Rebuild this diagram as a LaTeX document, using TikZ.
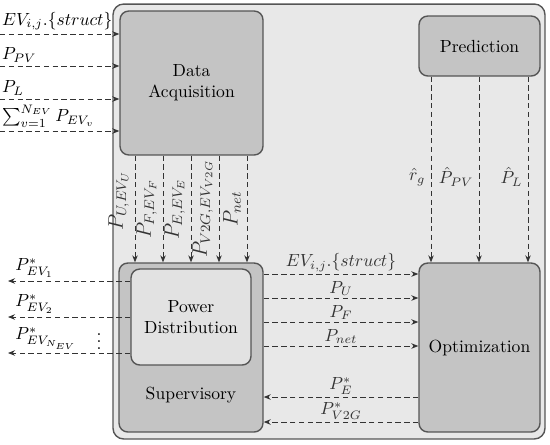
\documentclass[tikz,border=0pt]{standalone}
\usepackage{amsmath,amssymb}
\usetikzlibrary{arrows.meta,positioning,calc}
\definecolor{panelgray}{RGB}{232,232,232}
\definecolor{blockgray}{RGB}{196,196,196}
\definecolor{innergray}{RGB}{226,226,226}
\definecolor{edgegray}{RGB}{85,85,85}
\tikzset{
  panel/.style={rectangle, rounded corners=6pt, draw=edgegray, fill=panelgray, line width=0.8pt},
  block/.style={rectangle, rounded corners=5pt, draw=edgegray, fill=blockgray,
                line width=0.8pt, align=center, font=\normalsize},
  innerblock/.style={block, fill=innergray},
  sig/.style={-{Stealth[length=1.4mm, width=1.1mm]}, black!80, line width=0.5pt,
              dash pattern=on 3pt off 2pt},
  siglbl/.style={inner sep=1pt, font=\normalsize},
  uplbl/.style={siglbl, font=\large, rotate=90, anchor=south, outer sep=2.5pt},
}
\begin{document}
\begin{tikzpicture}[x=0.02cm, y=-0.02cm]
\useasboundingbox (0,0) rectangle (550,444);
% blocks
\node[panel, minimum width=8.64cm, minimum height=8.7cm] (frame) at (329,221.5) {};
\node[block, minimum width=2.86cm, minimum height=2.88cm] (acq) at (191.5,83) {Data\\Acquisition};
\node[block, minimum width=2.42cm, minimum height=1.2cm] (pred) at (479.5,46) {Prediction};
\node[block, minimum width=2.88cm, minimum height=3.38cm] (sup) at (191,347.5) {};
\node[innerblock, minimum width=2.4cm, minimum height=1.92cm] (dist) at (191,317) {Power\\Distribution};
\node[font=\normalsize] (suplbl) at (191,395) {Supervisory};
\node[block, minimum width=2.42cm, minimum height=3.38cm] (opt) at (479.5,347.5) {Optimization};
% measured inputs
\foreach \y/\lbl [count=\i] in {34/{EV_{i,j}.\{struct\}}, 66/{P_{PV}}, 99/{P_L},
                                131/{\sum_{v=1}^{N_{EV}} P_{EV_v}}} {
  \coordinate (in\i) at (0,\y);
  \draw[sig] (in\i) -- (in\i -| acq.west);
  \node[siglbl, anchor=south west, yshift=1pt] (inlbl\i) at (in\i) {$\lbl$};
}
% acquisition -> supervisory
\foreach \x/\lbl/\p [count=\i] in {135/{P_{U,EV_U}}/0.42, 163/{P_{F,EV_F}}/0.5, 191/{P_{E,EV_E}}/0.5,
                                   219/{P_{V2G,EV_{V2G}}}/0.5, 247/{P_{net}}/0.5} {
  \coordinate (dx\i) at (\x,0);
  \draw[sig] (acq.south -| dx\i) -- (sup.north -| dx\i)
    node[uplbl, pos=\p] (dnlbl\i) {$\lbl$};
}
% prediction -> optimization
\foreach \x/\lbl [count=\i] in {431/{\hat{r}_g}, 479/{\hat{P}_{PV}}, 528/{\hat{P}_L}} {
  \coordinate (px\i) at (\x,0);
  \draw[sig] (pred.south -| px\i) -- (opt.north -| px\i)
    node[siglbl, anchor=east, pos=0.54, xshift=-2pt] (prlbl\i) {$\lbl$};
}
% supervisory <-> optimization
\foreach \y/\lbl [count=\i] in {274/{EV_{i,j}.\{struct\}}, 298/{P_U}, 322/{P_F}, 346/{P_{net}}} {
  \coordinate (fy\i) at (0,\y);
  \draw[sig] (sup.east |- fy\i) -- (opt.west |- fy\i)
    node[siglbl, midway, above] (fwlbl\i) {$\lbl$};
}
\foreach \y/\lbl [count=\i] in {397/{P_E^*}, 422/{P_{V2G}^*}} {
  \coordinate (by\i) at (0,\y);
  \draw[sig] (opt.west |- by\i) -- (sup.east |- by\i)
    node[siglbl, midway, above] (bklbl\i) {$\lbl$};
}
% set points to the vehicles
\foreach \y/\lbl [count=\i] in {281/{P^*_{EV_1}}, 317/{P^*_{EV_2}}, 353/{P^*_{EV_{N_{EV}}}}} {
  \coordinate (out\i) at (8,\y);
  \draw[sig] (dist.west |- out\i) -- (out\i);
  \node[siglbl, anchor=south west, xshift=3pt, yshift=1pt] (outlbl\i) at (out\i) {$\lbl$};
}
\node[inner sep=0pt] (dots) at (99,336) {$\vdots$};
\end{tikzpicture}
\end{document}
